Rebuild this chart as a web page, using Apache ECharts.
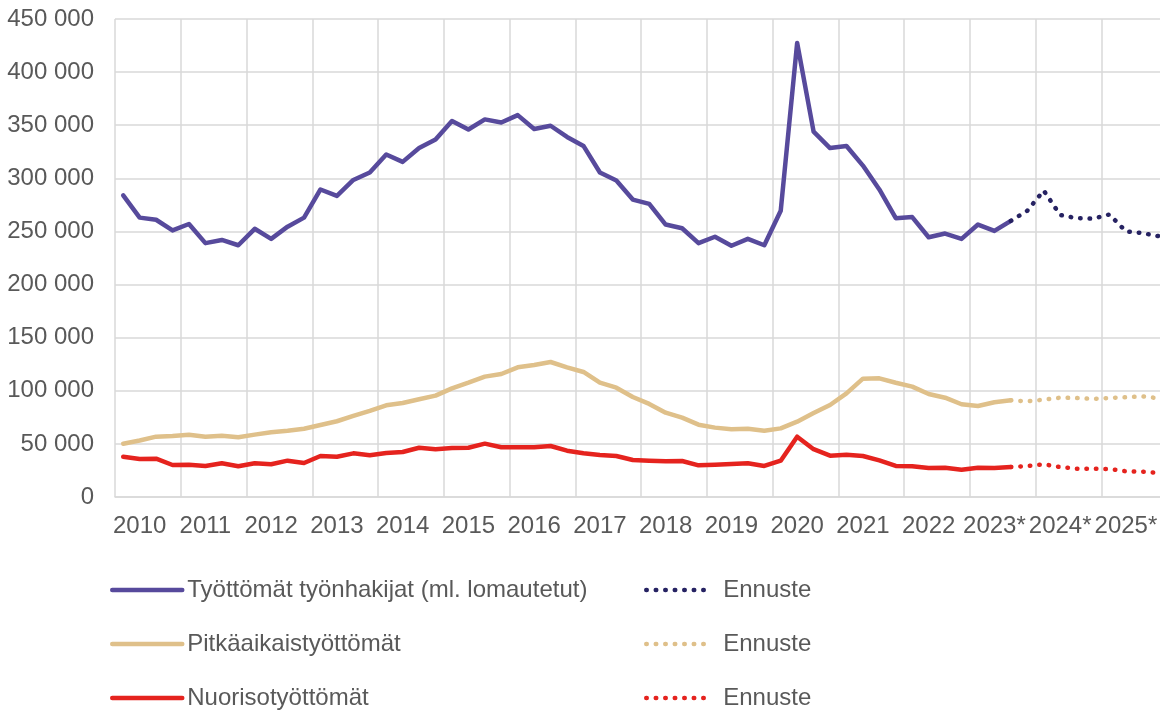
<!DOCTYPE html>
<html>
<head>
<meta charset="utf-8">
<script src="https://cdn.jsdelivr.net/npm/echarts@6/dist/echarts.min.js"></script>
<style>
  html, body { margin: 0; padding: 0; background: #fff; }
  #chart { width: 1160px; height: 711px; }
</style>
</head>
<body>
<div id="chart"></div>
<script>
// vuodet x-akselille, neljä neljännestä per vuosi
var years = ['2010', '2011', '2012', '2013', '2014', '2015', '2016', '2017',
  '2018', '2019', '2020', '2021', '2022', '2023*', '2024*', '2025*'];

// toteutuneet arvot 2010 Q1 - 2023 Q3
var tyottomat = [
  284000, 263000, 261000, 251000, 257000, 239000, 242000, 237000,
  252500, 243000, 254500, 263000, 289500, 283500, 298500, 305500,
  322500, 315500, 328500, 336500, 354000, 346000, 355500, 352500,
  359500, 346500, 349500, 339000, 330500, 305500, 298000, 280000,
  276000, 256500, 253000, 239000, 245000, 236500, 243000, 237000,
  269500, 427500, 344000, 328500, 330500, 312000, 289500, 262500,
  263500, 244500, 248000, 243000, 256500, 250500, 260000
];
var pitkaaikais = [
  50200, 53200, 56800, 57400, 58700, 56800, 57700, 56200,
  58700, 60900, 62400, 64300, 67800, 71300, 76300, 81000,
  86300, 88500, 92000, 95400, 102300, 107600, 113300, 115800,
  122100, 124300, 127100, 122100, 117700, 107600, 102900, 94100,
  87600, 79400, 74700, 68100, 65300, 63700, 64300, 62400,
  64600, 70900, 79000, 86600, 97600, 111400, 111700, 107600,
  103900, 97000, 93500, 87300, 85700, 89200, 91000
];
var nuoriso = [
  37900, 35800, 36100, 30100, 30400, 29200, 31700, 28900,
  31700, 30800, 34200, 32000, 38600, 37900, 41100, 39300,
  41400, 42400, 46400, 44900, 46100, 46400, 50200, 46800,
  46800, 46800, 48000, 43600, 41100, 39500, 38600, 34800,
  34200, 33600, 33900, 29800, 30400, 31100, 31700, 29200,
  34200, 56800, 45000, 38900, 39800, 38600, 34500, 29200,
  28900, 27300, 27600, 25700, 27600, 27300, 28200
];

// ennusteet 2023 Q3 - 2025 Q4 (alkaa viimeisestä toteumasta)
var tyottomatEnnuste = [260000, 269500, 288500, 265500, 262500, 262000, 266000, 250000, 248500, 245500];
var pitkaaikaisEnnuste = [91000, 90100, 91600, 93500, 93200, 92300, 93200, 93900, 94800, 92900];
var nuorisoEnnuste = [28200, 29200, 30800, 28200, 26600, 26600, 26400, 24200, 23800, 22600];

var categories = [];
years.forEach(function (y) {
  for (var q = 1; q <= 4; q++) categories.push(y + '|Q' + q);
});

function actual(arr) {
  var out = arr.slice();
  while (out.length < categories.length) out.push(null);
  return out;
}
function forecast(arr) {
  var out = [];
  for (var i = 0; i < categories.length - arr.length; i++) out.push(null);
  return out.concat(arr);
}

var textColor = '#595959';
var gridColor = '#d9d9d9';
var fontFamily = 'Liberation Sans, Arial, sans-serif';
var dots = [0.5, 9];
var lineW = 4.5;

var myChart = echarts.init(document.getElementById('chart'));

function lineSeries(name, data, color, dotted) {
  return {
    name: name,
    type: 'line',
    data: data,
    symbol: 'none',
    showSymbol: false,
    animation: false,
    itemStyle: { color: color },
    lineStyle: {
      color: color,
      width: lineW,
      type: dotted ? dots : 'solid',
      cap: 'round',
      join: 'round'
    }
  };
}

// yksi legenda per rivi, jotta sijainnit saa kohdalleen
function legendItem(name, left, top, width, dotted, label) {
  return {
    left: left,
    top: top,
    padding: 0,
    itemWidth: width,
    itemHeight: 14,
    itemGap: 0,
    selectedMode: false,
    itemStyle: { opacity: 0, borderWidth: 0 },
    lineStyle: { width: lineW, type: dotted ? dots : 'solid', cap: 'round', opacity: 1 },
    formatter: function () { return label || name; },
    textStyle: {
      color: textColor,
      fontSize: 24,
      fontFamily: fontFamily,
      padding: dotted ? [0, 0, 0, 8] : 0
    },
    data: [name]
  };
}

var option = {
  backgroundColor: '#fff',
  animation: false,
  grid: {
    left: 115,
    right: -7,
    top: 19,
    bottom: 214,
    outerBoundsMode: 'none'
  },
  xAxis: {
    type: 'category',
    data: categories,
    boundaryGap: true,
    axisLine: { show: true, lineStyle: { color: gridColor, width: 1.5 } },
    axisTick: { show: false },
    splitLine: {
      show: true,
      interval: function (i) { return i % 4 === 0; },
      lineStyle: { color: gridColor, width: 1.5 }
    },
    axisLabel: {
      interval: function (i) { return i % 4 === 1; },
      formatter: function (v) { return v.split('|')[0]; },
      color: textColor,
      fontSize: 24,
      fontFamily: fontFamily,
      margin: 17
    }
  },
  yAxis: {
    type: 'value',
    min: 0,
    max: 450000,
    interval: 50000,
    axisLine: { show: false },
    axisTick: { show: false },
    splitLine: { lineStyle: { color: gridColor, width: 1.5 } },
    axisLabel: {
      color: textColor,
      fontSize: 24,
      fontFamily: fontFamily,
      margin: 21,
      formatter: function (v) {
        if (v === 0) return '0';
        var s = String(v);
        return s.slice(0, s.length - 3) + ' ' + s.slice(-3);
      }
    }
  },
  legend: [
    legendItem('Työttömät työnhakijat (ml. lomautetut)', 110, 578, 70, false),
    legendItem('Pitkäaikaistyöttömät', 110, 632, 70, false),
    legendItem('Nuorisotyöttömät', 110, 686, 70, false),
    legendItem('Ennuste työttömät', 644, 578, 64, true, 'Ennuste'),
    legendItem('Ennuste pitkäaikais', 644, 632, 64, true, 'Ennuste'),
    legendItem('Ennuste nuoriso', 644, 686, 64, true, 'Ennuste')
  ],
  series: [
    lineSeries('Työttömät työnhakijat (ml. lomautetut)', actual(tyottomat), '#574a9c', false),
    lineSeries('Pitkäaikaistyöttömät', actual(pitkaaikais), '#dfc08a', false),
    lineSeries('Nuorisotyöttömät', actual(nuoriso), '#e5231e', false),
    lineSeries('Ennuste työttömät', forecast(tyottomatEnnuste), '#262262', true),
    lineSeries('Ennuste pitkäaikais', forecast(pitkaaikaisEnnuste), '#dfc08a', true),
    lineSeries('Ennuste nuoriso', forecast(nuorisoEnnuste), '#e5231e', true)
  ]
};

myChart.setOption(option);
</script>
</body>
</html>
